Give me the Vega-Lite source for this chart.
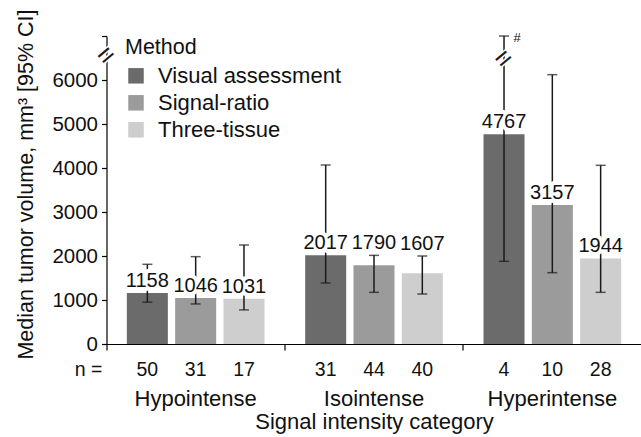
{
  "$schema": "https://vega.github.io/schema/vega-lite/v6.json",
  "width": 535,
  "height": 308,
  "autosize": {"type": "none"},
  "padding": {"left": 106.5, "top": 36, "right": 0, "bottom": 93},
  "background": "white",
  "config": {"font": "Liberation Sans", "view": {"stroke": null}},
  "data": {"values": [
    {"category": "Hypointense", "method": "Visual assessment", "value": 1158, "lower": 950, "upper": 1811, "n": 50},
    {"category": "Hypointense", "method": "Signal-ratio", "value": 1046, "lower": 910, "upper": 1985, "n": 31},
    {"category": "Hypointense", "method": "Three-tissue", "value": 1031, "lower": 775, "upper": 2250, "n": 17},
    {"category": "Isointense", "method": "Visual assessment", "value": 2017, "lower": 1386, "upper": 4068, "n": 31},
    {"category": "Isointense", "method": "Signal-ratio", "value": 1790, "lower": 1174, "upper": 2015, "n": 44},
    {"category": "Isointense", "method": "Three-tissue", "value": 1607, "lower": 1136, "upper": 2000, "n": 40},
    {"category": "Hyperintense", "method": "Visual assessment", "value": 4767, "lower": 1879, "upper": 7000, "n": 4},
    {"category": "Hyperintense", "method": "Signal-ratio", "value": 3157, "lower": 1621, "upper": 6121, "n": 10},
    {"category": "Hyperintense", "method": "Three-tissue", "value": 1944, "lower": 1174, "upper": 4061, "n": 28}
  ]},
  "layer": [
    {
      "mark": {"type": "bar"},
      "encoding": {
        "x": {"field": "category", "type": "nominal", "sort": ["Hypointense", "Isointense", "Hyperintense"],
              "scale": {"paddingInner": 0, "paddingOuter": 0},
              "axis": {"title": "Signal intensity category", "titleFontSize": 22, "titleFontWeight": "normal", "titleY": 84, "titleBaseline": "alphabetic",
                       "labelFontSize": 22, "labelBaseline": "alphabetic", "labelPadding": 55, "labelAngle": 0, "tickSize": 6,
                       "bandPosition": 0, "tickExtra": false, "domainColor": "#000", "tickColor": "#000", "domainWidth": 1.2, "tickWidth": 1.2,
                       "labelColor": "#111", "titleColor": "#111", "zindex": 1}},
        "xOffset": {"field": "method", "type": "nominal", "sort": ["Visual assessment", "Signal-ratio", "Three-tissue"],
                    "scale": {"paddingInner": 0.151, "paddingOuter": 0.421}},
        "y": {"field": "value", "type": "quantitative", "scale": {"domain": [0, 7000], "nice": false, "zero": true},
              "axis": {"values": [0, 1000, 2000, 3000, 4000, 5000, 6000, 7000], "format": "d",
                       "labelExpr": "datum.value == 7000 ? '' : datum.label",
                       "labelFontSize": 20.5, "labelPadding": 4, "tickSize": 5, "grid": false,
                       "title": "Median tumor volume, mm³ [95% CI]", "titleFontSize": 21.5, "titleFontWeight": "normal",
                       "titleX": -74, "titleY": 148, "titleBaseline": "alphabetic", "titleAngle": -90,
                       "domainColor": "#000", "tickColor": "#000", "domainWidth": 1.2, "tickWidth": 1.2,
                       "labelColor": "#111", "titleColor": "#111", "zindex": 0}},
        "color": {"field": "method", "type": "nominal",
                  "scale": {"domain": ["Visual assessment", "Signal-ratio", "Three-tissue"], "range": ["#6b6b6b", "#9b9b9b", "#cecece"]},
                  "legend": {"orient": "none", "legendX": 18.5, "legendY": 1.3, "title": "Method", "titleFontSize": 21.5, "titleFontWeight": "normal",
                             "titleBaseline": "top", "titlePadding": 6, "labelFontSize": 22, "labelOffset": 11, "labelLimit": 400, "symbolType": "square",
                             "symbolSize": 240, "symbolStrokeWidth": 0, "symbolOpacity": 1, "rowPadding": 5, "padding": 0,
                             "labelColor": "#111", "titleColor": "#111"}}
      }
    },
    {
      "mark": {"type": "rule", "color": "#1a1a1a", "strokeWidth": 1.5},
      "encoding": {
        "x": {"field": "category", "type": "nominal", "sort": ["Hypointense", "Isointense", "Hyperintense"]},
        "xOffset": {"field": "method", "type": "nominal", "sort": ["Visual assessment", "Signal-ratio", "Three-tissue"]},
        "y": {"field": "lower", "type": "quantitative"},
        "y2": {"field": "upper"}
      }
    },
    {
      "mark": {"type": "tick", "color": "#1a1a1a", "thickness": 1.5, "size": 10, "orient": "horizontal"},
      "encoding": {
        "x": {"field": "category", "type": "nominal", "sort": ["Hypointense", "Isointense", "Hyperintense"]},
        "xOffset": {"field": "method", "type": "nominal", "sort": ["Visual assessment", "Signal-ratio", "Three-tissue"]},
        "y": {"field": "upper", "type": "quantitative"}
      }
    },
    {
      "mark": {"type": "tick", "color": "#1a1a1a", "thickness": 1.5, "size": 10, "orient": "horizontal"},
      "encoding": {
        "x": {"field": "category", "type": "nominal", "sort": ["Hypointense", "Isointense", "Hyperintense"]},
        "xOffset": {"field": "method", "type": "nominal", "sort": ["Visual assessment", "Signal-ratio", "Three-tissue"]},
        "y": {"field": "lower", "type": "quantitative"}
      }
    },
    {
      "transform": [{"filter": "datum.upper - datum.value > 500"}],
      "mark": {"type": "text", "fontSize": 20, "baseline": "alphabetic", "align": "center", "dy": -6, "fill": "white", "stroke": "white", "strokeWidth": 8, "strokeJoin": "round"},
      "encoding": {
        "x": {"field": "category", "type": "nominal", "sort": ["Hypointense", "Isointense", "Hyperintense"]},
        "xOffset": {"field": "method", "type": "nominal", "sort": ["Visual assessment", "Signal-ratio", "Three-tissue"]},
        "y": {"field": "value", "type": "quantitative"},
        "text": {"field": "value", "type": "quantitative", "format": "d"}
      }
    },
    {
      "transform": [{"filter": "datum.upper - datum.value <= 500"}],
      "mark": {"type": "text", "fontSize": 20, "baseline": "alphabetic", "align": "center", "dy": -6, "fill": "white", "stroke": "white", "strokeWidth": 8, "strokeJoin": "round"},
      "encoding": {
        "x": {"field": "category", "type": "nominal", "sort": ["Hypointense", "Isointense", "Hyperintense"]},
        "xOffset": {"field": "method", "type": "nominal", "sort": ["Visual assessment", "Signal-ratio", "Three-tissue"]},
        "y": {"field": "upper", "type": "quantitative"},
        "text": {"field": "value", "type": "quantitative", "format": "d"}
      }
    },
    {
      "transform": [{"filter": "datum.upper - datum.value > 500"}],
      "mark": {"type": "text", "fontSize": 20, "baseline": "alphabetic", "align": "center", "dy": -6, "color": "#111"},
      "encoding": {
        "x": {"field": "category", "type": "nominal", "sort": ["Hypointense", "Isointense", "Hyperintense"]},
        "xOffset": {"field": "method", "type": "nominal", "sort": ["Visual assessment", "Signal-ratio", "Three-tissue"]},
        "y": {"field": "value", "type": "quantitative"},
        "text": {"field": "value", "type": "quantitative", "format": "d"}
      }
    },
    {
      "transform": [{"filter": "datum.upper - datum.value <= 500"}],
      "mark": {"type": "text", "fontSize": 20, "baseline": "alphabetic", "align": "center", "dy": -6, "color": "#111"},
      "encoding": {
        "x": {"field": "category", "type": "nominal", "sort": ["Hypointense", "Isointense", "Hyperintense"]},
        "xOffset": {"field": "method", "type": "nominal", "sort": ["Visual assessment", "Signal-ratio", "Three-tissue"]},
        "y": {"field": "upper", "type": "quantitative"},
        "text": {"field": "value", "type": "quantitative", "format": "d"}
      }
    },
    {
      "mark": {"type": "text", "fontSize": 19.5, "baseline": "alphabetic", "align": "center", "dy": 32, "color": "#111"},
      "encoding": {
        "x": {"field": "category", "type": "nominal", "sort": ["Hypointense", "Isointense", "Hyperintense"]},
        "xOffset": {"field": "method", "type": "nominal", "sort": ["Visual assessment", "Signal-ratio", "Three-tissue"]},
        "y": {"datum": 0, "type": "quantitative"},
        "text": {"field": "n", "type": "quantitative"}
      }
    },
    {
      "transform": [{"filter": "datum.category == 'Hypointense' && datum.method == 'Visual assessment'"}],
      "mark": {"type": "text", "fontSize": 19.5, "baseline": "alphabetic", "align": "right", "dy": 32, "dx": -4, "color": "#111"},
      "encoding": {
        "x": {"field": "category", "type": "nominal", "sort": ["Hypointense", "Isointense", "Hyperintense"], "bandPosition": 0},
        "y": {"datum": 0, "type": "quantitative"},
        "text": {"value": "n ="}
      }
    },
    {
      "transform": [{"filter": "datum.category == 'Hyperintense' && datum.method == 'Visual assessment'"}],
      "mark": {"type": "text", "fontSize": 13, "baseline": "middle", "align": "center", "dx": 13, "dy": 2, "color": "#111"},
      "encoding": {
        "x": {"field": "category", "type": "nominal", "sort": ["Hypointense", "Isointense", "Hyperintense"]},
        "xOffset": {"field": "method", "type": "nominal", "sort": ["Visual assessment", "Signal-ratio", "Three-tissue"]},
        "y": {"field": "upper", "type": "quantitative"},
        "text": {"value": "#"}
      }
    },
    {
      "transform": [{"filter": "datum.category == 'Hyperintense' && datum.method == 'Visual assessment'"}],
      "mark": {"type": "text", "fontSize": 28, "baseline": "middle", "align": "center", "angle": -40, "fill": "white", "stroke": "white", "strokeWidth": 3},
      "encoding": {
        "x": {"field": "category", "type": "nominal", "sort": ["Hypointense", "Isointense", "Hyperintense"]},
        "xOffset": {"field": "method", "type": "nominal", "sort": ["Visual assessment", "Signal-ratio", "Three-tissue"]},
        "y": {"datum": 6470, "type": "quantitative"},
        "text": {"value": "="}
      }
    },
    {
      "transform": [{"filter": "datum.category == 'Hyperintense' && datum.method == 'Visual assessment'"}],
      "mark": {"type": "text", "fontSize": 28, "baseline": "middle", "align": "center", "angle": -40, "color": "#1a1a1a"},
      "encoding": {
        "x": {"field": "category", "type": "nominal", "sort": ["Hypointense", "Isointense", "Hyperintense"]},
        "xOffset": {"field": "method", "type": "nominal", "sort": ["Visual assessment", "Signal-ratio", "Three-tissue"]},
        "y": {"datum": 6470, "type": "quantitative"},
        "text": {"value": "="}
      }
    },
    {
      "transform": [{"filter": "datum.category == 'Hypointense' && datum.method == 'Visual assessment'"}],
      "mark": {"type": "text", "fontSize": 28, "baseline": "middle", "align": "center", "angle": -40, "fill": "white", "stroke": "white", "strokeWidth": 3},
      "encoding": {
        "x": {"field": "category", "type": "nominal", "sort": ["Hypointense", "Isointense", "Hyperintense"], "bandPosition": 0},
        "y": {"datum": 6540, "type": "quantitative"},
        "text": {"value": "="}
      }
    },
    {
      "transform": [{"filter": "datum.category == 'Hypointense' && datum.method == 'Visual assessment'"}],
      "mark": {"type": "text", "fontSize": 28, "baseline": "middle", "align": "center", "angle": -40, "color": "#1a1a1a"},
      "encoding": {
        "x": {"field": "category", "type": "nominal", "sort": ["Hypointense", "Isointense", "Hyperintense"], "bandPosition": 0},
        "y": {"datum": 6540, "type": "quantitative"},
        "text": {"value": "="}
      }
    }
  ]
}
